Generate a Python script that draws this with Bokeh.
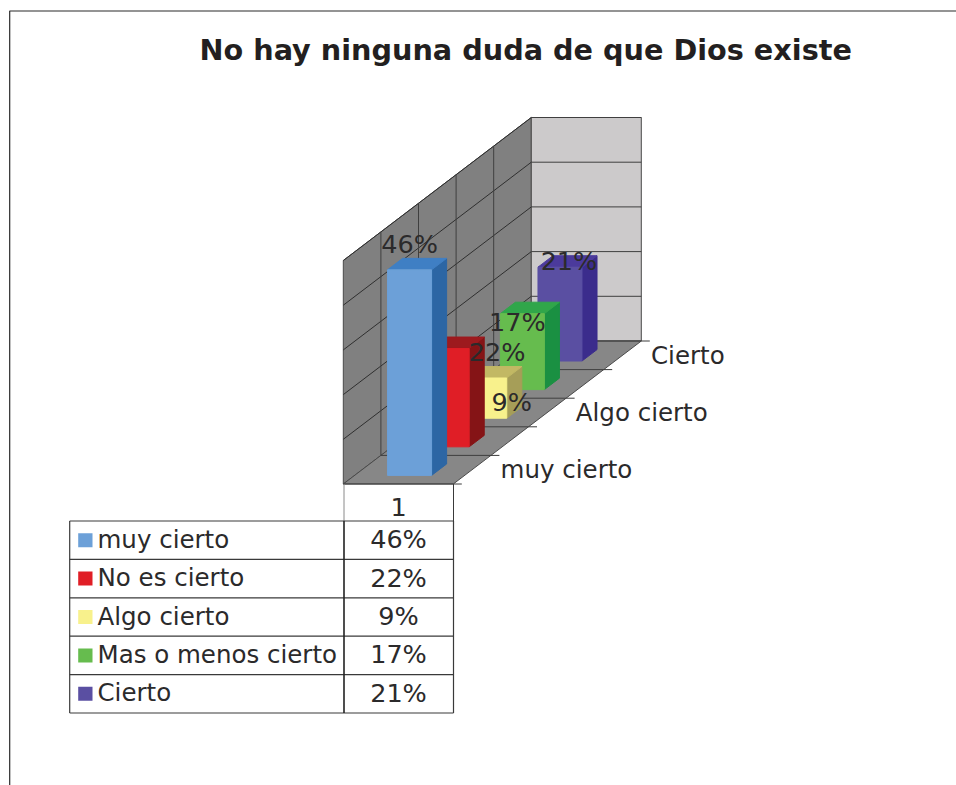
from bokeh.plotting import figure
from bokeh.models import Range1d
from bokeh.core.properties import value
from bokeh.embed import file_html
from bokeh.resources import INLINE

TITLE = "No hay ninguna duda de que Dios existe"
categories = ["muy cierto", "No es cierto", "Algo cierto", "Mas o menos cierto", "Cierto"]
values = [46, 22, 9, 17, 21]
depth_labels = ["muy cierto", "", "Algo cierto", "", "Cierto"]
value_ticks = [0, 10, 20, 30, 40, 50]
series_name = "1"

front_colors = ["#6CA0D8", "#E01E26", "#F8F18C", "#66BC4E", "#5A4FA2"]
top_colors = ["#3F7FC4", "#9D1A1E", "#C2B864", "#30A64A", "#4B3A9C"]
side_colors = ["#2C66A4", "#851416", "#A69E58", "#1A9042", "#3B2C8C"]
# label offsets from the bar's top-centre (px), as placed in the reference
label_dx = [0, 50, 27, -5, 9]
label_dy = [-25.5, 3.5, 24.5, 8, -6.5]

INK = "#2b2a2b"
FONT = value("DejaVu Sans")
FS = "24.5px"
FS_NUM = "25.5px"

# projection of (width u, depth d, value v) to page pixels
OX, OY = 342.8, 483.5
WX = 110.0
DX, DY = 37.6, -28.6
VY = -4.47
def P(u, d, v):
    return OX + WX * u + DX * d, OY + DY * d + VY * v

def poly(p, pts, fill, line=None, lw=1):
    xs = [q[0] for q in pts]
    ys = [q[1] for q in pts]
    p.patch(xs, ys, fill_color=fill, line_color=line if line else fill, line_width=lw)

def seg(p, a, b, color="#3a3a3a", lw=1.0):
    p.line([a[0], b[0]], [a[1], b[1]], line_color=color, line_width=lw)

def txt(p, x, y, s, align="left", size=FS, style="normal", color=INK):
    p.text([x], [y], text=[s], text_font=FONT, text_font_size=size, text_font_style=style,
           text_align=align, text_baseline="middle", text_color=color)

p = figure(width=956, height=785, x_range=Range1d(0, 956), y_range=Range1d(785, 0),
           output_backend="svg", toolbar_location=None, min_border=0,
           x_axis_location=None, y_axis_location=None, outline_line_color=None)
p.grid.visible = False
p.background_fill_color = "white"

# page frame
p.line([956, 9.2, 9.2], [10.5, 10.5, 785], line_color="#2a2a2a", line_width=1.2)

txt(p, 525.2, 49.5, TITLE, "center", "28.7px", "bold", "#231f20")

nd = len(categories)
vmax = value_ticks[-1]

# walls and floor
poly(p, [P(0, 0, 0), P(0, nd, 0), P(0, nd, vmax), P(0, 0, vmax)], "#808080", "#4a4a4a")
poly(p, [P(0, nd, 0), P(1, nd, 0), P(1, nd, vmax), P(0, nd, vmax)], "#CCCACB", "#4a4a4a")
poly(p, [P(0, 0, 0), P(1, 0, 0), P(1, nd, 0), P(0, nd, 0)], "#878787", "#4a4a4a")

# grid lines
for v in value_ticks[1:]:
    seg(p, P(0, 0, v), P(0, nd, v), "#2f2f2f")
    seg(p, P(0, nd, v), P(1, nd, v), "#3f3f3f")
for d in range(1, nd):
    seg(p, P(0, d, 0), P(0, d, vmax), "#3f3f3f")
for d in range(0, nd + 1):
    a = P(1, d, 0)
    seg(p, P(0, d, 0), a, "#3f3f3f")
    seg(p, a, (a[0] + 8.5, a[1]), "#3a3a3a")

# bars, back to front
U0, U1, D0, D1 = 0.3, 0.7, 0.3, 0.7
for i in range(nd - 1, -1, -1):
    v = values[i]
    poly(p, [P(U1, i + D0, 0), P(U1, i + D1, 0), P(U1, i + D1, v), P(U1, i + D0, v)], side_colors[i])
    poly(p, [P(U0, i + D0, v), P(U1, i + D0, v), P(U1, i + D1, v), P(U0, i + D1, v)], top_colors[i])
    poly(p, [P(U0, i + D0, 0), P(U1, i + D0, 0), P(U1, i + D0, v), P(U0, i + D0, v)], front_colors[i])

# value labels
for i, v in enumerate(values):
    x, y = P(0.5, i + D0, v)
    txt(p, x + label_dx[i], y + label_dy[i], f"{v}%", "center", FS_NUM)

# depth axis labels
for i, s in enumerate(depth_labels):
    if s:
        x, y = P(1, i + 0.5, 0)
        txt(p, x + 28.5, y, s)

# data table
T_L, T_M, T_R = 69.2, 343.5, 453.0
T_TOP, ROW = 520.5, 38.4
seg(p, (T_M, OY), (T_M, T_TOP), "#8a8a8a", 1.0)
seg(p, (T_R, OY), (T_R, T_TOP), "#3a3a3a", 1.0)
txt(p, 398, 506, series_name, "center", FS_NUM)
for r in range(nd + 1):
    y = T_TOP + ROW * r
    seg(p, (T_L, y), (T_R, y), "#3a3a3a", 1.2)
seg(p, (T_L, T_TOP), (T_L, T_TOP + ROW * nd), "#3a3a3a", 1.2)
seg(p, (T_M, T_TOP), (T_M, T_TOP + ROW * nd), "#222222", 1.6)
seg(p, (T_R, T_TOP), (T_R, T_TOP + ROW * nd), "#3a3a3a", 1.2)
for i, (c, v) in enumerate(zip(categories, values)):
    yc = T_TOP + ROW * (i + 0.5)
    p.quad(left=[77.7], right=[92], top=[yc - 7], bottom=[yc + 7],
           fill_color=front_colors[i], line_color=None)
    txt(p, 97, yc - 1, c)
    txt(p, 398, yc - 1, f"{v}%", "center", FS_NUM)

open("out.html", "w").write(file_html(p, INLINE))
